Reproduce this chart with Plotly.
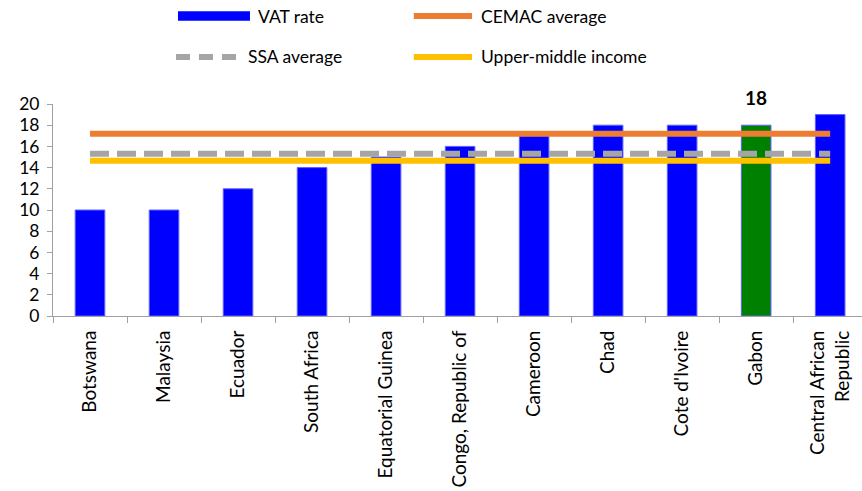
import plotly.graph_objects as go

countries = ['Botswana', 'Malaysia', 'Ecuador', 'South Africa', 'Equatorial Guinea',
             'Congo, Republic of', 'Cameroon', 'Chad', "Cote d'Ivoire", 'Gabon',
             'Central African<br>Republic']
vat_rate = [10, 10, 12, 14, 15, 16, 17, 18, 18, 18, 19]
cemac_avg = 17.2
ssa_avg = 15.3
umi_avg = 14.65
highlight = 'Gabon'

FONT = 'Lato'

bar_colors = ['#008000' if c == highlight else '#0000FF' for c in countries]

fig = go.Figure()
fig.add_trace(go.Bar(
    x=countries, y=vat_rate, name='VAT rate',
    marker=dict(color=bar_colors, line=dict(color='#6060ff', width=1)),
))
fig.add_trace(go.Scatter(
    x=countries, y=[cemac_avg] * len(countries), mode='lines', name='CEMAC average',
    line=dict(color='#ED7D31', width=6),
))
fig.add_trace(go.Scatter(
    x=countries, y=[ssa_avg] * len(countries), mode='lines', name='SSA average',
    line=dict(color='#A5A5A5', width=6, dash='19px,8px'),
))
fig.add_trace(go.Scatter(
    x=countries, y=[umi_avg] * len(countries), mode='lines', name='Upper-middle income',
    line=dict(color='#FFC000', width=6),
))

# value label above the highlighted bar
fig.add_annotation(
    x=highlight, y=vat_rate[countries.index(highlight)], text='<b>18</b>',
    showarrow=False, yanchor='bottom', yshift=14,
    font=dict(family=FONT, size=19, color='black'),
)

# manual two-column legend
def legend_item(x0, x1, y, color, label, dash=None):
    fig.add_shape(type='line', xref='paper', yref='paper', x0=x0, x1=x1, y0=y, y1=y,
                  line=dict(color=color, width=6, dash=dash))
    fig.add_annotation(xref='paper', yref='paper', x=x1 + 0.008, y=y, text=label,
                       showarrow=False, xanchor='left', yanchor='middle',
                       font=dict(family=FONT, size=17.5, color='black'))

fig.add_shape(type='rect', xref='paper', yref='paper', x0=0.1545, x1=0.2435,
              y0=1.393, y1=1.437, fillcolor='#0000FF', line=dict(width=0))
fig.add_annotation(xref='paper', yref='paper', x=0.2515, y=1.415, text='VAT rate',
                   showarrow=False, xanchor='left', yanchor='middle',
                   font=dict(family=FONT, size=17.5, color='black'))
legend_item(0.446, 0.518, 1.415, '#ED7D31', 'CEMAC average')
legend_item(0.152, 0.231, 1.222, '#A5A5A5', 'SSA average', dash='14px,9px')
legend_item(0.446, 0.518, 1.222, '#FFC000', 'Upper-middle income')

fig.update_layout(
    width=862, height=491,
    margin=dict(l=53, r=0, t=104, b=175),
    plot_bgcolor='white', paper_bgcolor='white',
    showlegend=False,
    bargap=0.6,
    font=dict(family=FONT, size=18, color='black'),
    xaxis=dict(
        range=[-0.5, 10.43], showgrid=False, tickangle=-90,
        showline=True, linecolor='#A0A0A0', linewidth=1,
        ticks='outside', tickson='boundaries', ticklen=6, tickcolor='#A0A0A0',
        tickfont=dict(family=FONT, size=19), ticklabelstandoff=6,
    ),
    yaxis=dict(
        range=[0, 20], dtick=2, showgrid=False, zeroline=False,
        showline=True, linecolor='#A0A0A0', linewidth=1,
        ticks='outside', ticklen=5, tickcolor='#A0A0A0',
        tickfont=dict(family=FONT, size=17.5), ticklabelstandoff=4,
    ),
)

# drop the browser's default 8px body margin so the figure sits at the top-left corner
fig.write_html('out.html', config={'displayModeBar': False},
               post_script="document.body.style.margin='0';")
